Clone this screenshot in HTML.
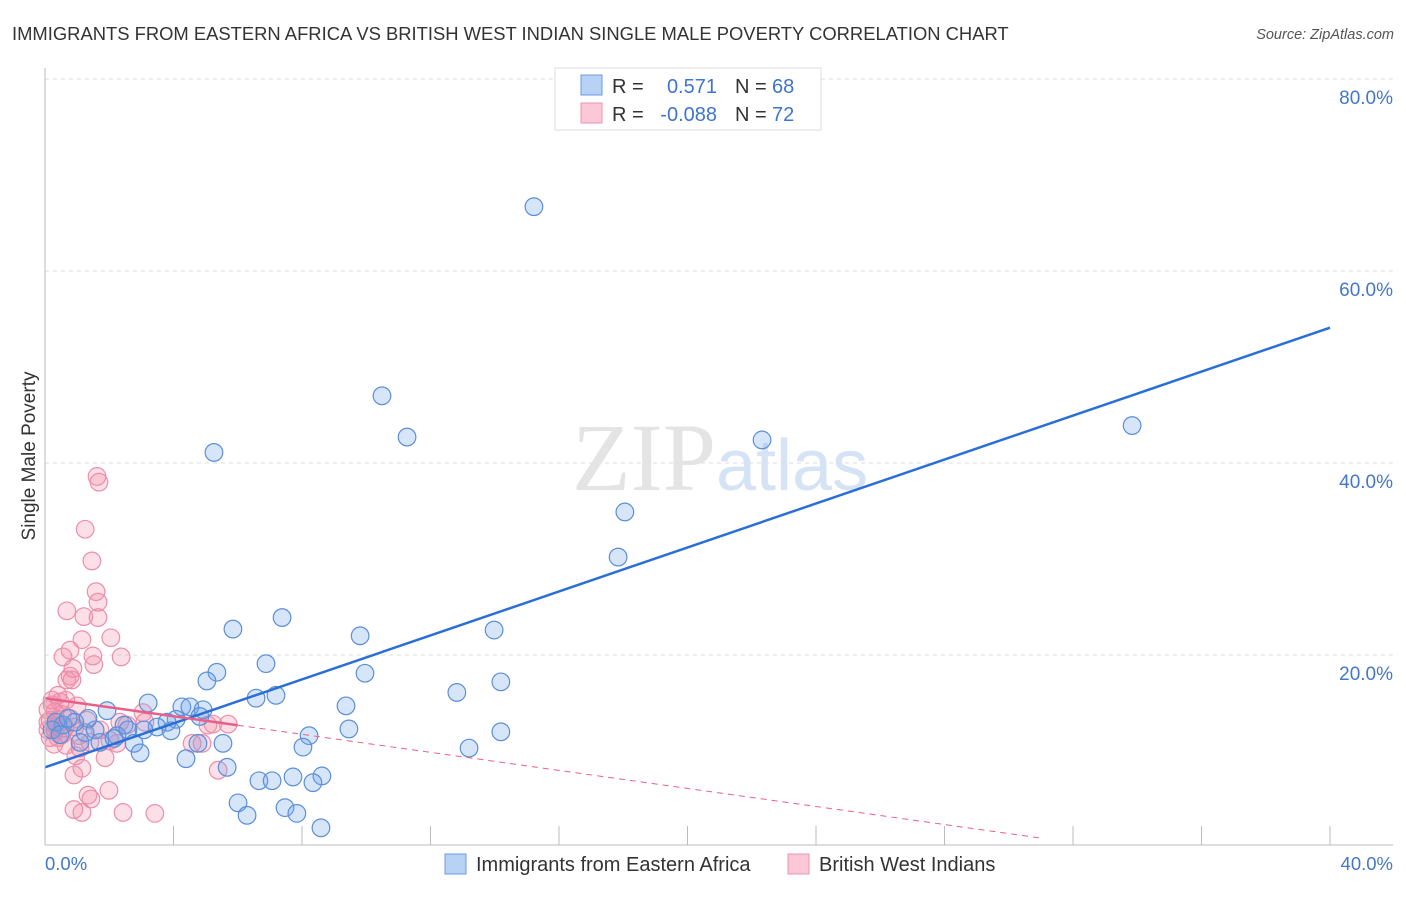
<!DOCTYPE html>
<html><head><meta charset="utf-8"><style>
body{margin:0;background:#fff;font-family:"Liberation Sans",sans-serif}
</style></head><body>
<svg width="1406" height="892" viewBox="0 0 1406 892" style="font-family:'Liberation Sans',sans-serif">
<text x="12" y="40" font-size="18.4" fill="#333">IMMIGRANTS FROM EASTERN AFRICA VS BRITISH WEST INDIAN SINGLE MALE POVERTY CORRELATION CHART</text>
<text x="1394" y="39" font-size="14.5" fill="#555" text-anchor="end" font-style="italic">Source: ZipAtlas.com</text>
<g id="grid"></g>
<text x="716" y="490" font-size="96" fill="#e4e4e4" text-anchor="end" font-family="Liberation Serif">ZIP</text>
<text x="716" y="490" font-size="72" fill="#d5e3f5">atlas</text>
<g id="pts"></g>
<g id="lines"></g>
<line x1="45" y1="68" x2="45" y2="845" stroke="#bbb"/>
<line x1="45" y1="845" x2="1393" y2="845" stroke="#bbb"/>
<g id="ticks"></g>
<text x="28" y="463" font-size="19" fill="#333" text-anchor="middle" transform="rotate(-90 28 456)">Single Male Poverty</text>
<text x="45" y="870" font-size="18.5" fill="#4477cc">0.0%</text>
<text x="1393" y="870" font-size="18.5" fill="#4477cc" text-anchor="end">40.0%</text>
<g>
<rect x="555" y="68" width="266" height="62" fill="#fff" stroke="#ddd"/>
<rect x="581" y="75" width="21" height="20" fill="#b8d2f5" stroke="#6a9be0"/>
<rect x="581" y="103" width="21" height="20" fill="#fcc7d6" stroke="#ee93ad"/>
<text x="612" y="93" font-size="20" fill="#333">R =</text>
<text x="717" y="93" font-size="20" fill="#3f74d0" text-anchor="end">0.571</text>
<text x="735" y="93" font-size="20" fill="#333">N =</text>
<text x="772" y="93" font-size="20" fill="#3f74d0">68</text>
<text x="612" y="121" font-size="20" fill="#333">R =</text>
<text x="717" y="121" font-size="20" fill="#3f74d0" text-anchor="end">-0.088</text>
<text x="735" y="121" font-size="20" fill="#333">N =</text>
<text x="772" y="121" font-size="20" fill="#3f74d0">72</text>
</g>
<g>
<rect x="445" y="854" width="21" height="20" fill="#b8d2f5" stroke="#6a9be0"/>
<text x="476" y="871" font-size="20" fill="#333">Immigrants from Eastern Africa</text>
<rect x="788" y="854" width="21" height="20" fill="#fcc7d6" stroke="#ee93ad"/>
<text x="819" y="871" font-size="20" fill="#333">British West Indians</text>
</g>
</svg>
<script>
const yTicks=[20,40,60,80];
const xTicks=[0,4,8,12,16,20,24,28,32,36,40];
const blueX=[15.22,10.49,11.27,5.26,22.32,33.84,18.05,17.84,7.38,5.85,13.98,9.81,6.88,5.35,9.96,5.04,12.82,14.19,6.57,7.19,3.21,9.37,4.26,4.51,4.92,1.93,4.08,3.80,2.46,3.49,2.58,3.08,3.92,1.56,1.25,0.56,0.93,2.24,9.46,14.19,8.22,4.76,5.54,1.71,2.77,2.15,1.09,8.03,13.20,2.96,4.39,5.67,7.72,8.62,6.66,7.07,8.34,6.01,7.47,6.29,7.84,8.59,0.34,0.22,0.47,0.72,1.34,4.82];
const blueY=[66.7,47.0,42.7,41.1,42.4,43.9,34.9,30.2,23.9,22.7,22.6,22.0,19.1,18.2,18.1,17.3,16.1,17.2,15.5,15.8,15.0,14.7,14.6,14.6,14.3,14.2,13.3,13.0,12.7,12.5,12.2,12.2,12.1,12.2,11.9,12.7,13.0,11.6,12.3,12.0,11.6,10.8,10.8,10.9,10.8,11.3,10.9,10.4,10.3,9.8,9.2,8.3,7.3,7.4,6.9,6.9,6.7,4.6,4.1,3.3,3.5,2.0,13.0,12.2,11.7,13.4,13.4,13.6];
const pinkX=[1.62,1.68,1.25,1.46,1.59,1.65,0.68,1.21,1.65,2.05,1.15,0.78,0.56,1.49,2.37,1.52,0.87,0.78,0.84,0.68,0.22,0.47,0.09,0.31,1.00,0.16,0.37,0.53,0.78,1.31,0.09,0.31,0.62,0.16,0.40,0.28,0.93,3.05,2.33,2.55,3.11,5.07,5.23,5.70,4.89,4.58,1.06,0.65,2.02,1.09,0.96,1.87,1.15,0.90,5.39,1.99,1.34,1.43,0.90,1.15,2.43,3.42,0.37,0.53,1.40,1.71,2.24,0.09,0.22,0.40,0.65];
const pinkY=[38.6,38.0,33.1,29.8,26.6,25.5,24.6,24.0,23.9,21.8,21.6,20.5,19.8,19.9,19.8,19.0,18.6,17.8,17.4,17.4,15.3,15.1,14.3,14.1,14.7,13.2,13.2,13.8,13.4,13.2,12.2,12.2,12.4,11.4,11.4,10.7,12.5,14.0,13.0,12.7,13.0,12.7,12.8,12.8,10.8,10.8,11.6,10.6,11.1,10.3,9.5,9.3,8.2,7.5,8.0,5.9,5.4,5.0,3.9,3.6,3.6,3.5,12.6,11.7,10.9,12.2,10.8,13.0,14.8,15.8,15.3];
const blueFit=[8.3,54.1];
const pinkFit=[15.5,-0.133];
const NS="http://www.w3.org/2000/svg";
const X=v=>45+v*32.125, Y=v=>847-v*9.6;
function mk(t,a,p){const e=document.createElementNS(NS,t);for(const k in a)e.setAttribute(k,a[k]);p.appendChild(e);return e;}
const grid=document.getElementById('grid'),ticks=document.getElementById('ticks'),pts=document.getElementById('pts'),lines=document.getElementById('lines');
yTicks.forEach(v=>{
 const l=mk('line',{x1:45,x2:1393,y1:Y(v),y2:Y(v),stroke:'#ddd','stroke-dasharray':'4,4'},grid);
 
 
 const t=mk('text',{x:1393,y:Y(v)+25,'font-size':19,fill:'#4477cc','text-anchor':'end'},ticks);
 t.textContent=v.toFixed(1)+'%';
 
 
});
xTicks.forEach(v=>{
 const l=mk('line',{x1:X(v),x2:X(v),y1:826,y2:845,stroke:'#bbb'},ticks);
 
 
});
pinkX.forEach((v,i)=>{
 const c=mk('circle',{cx:X(v),cy:Y(pinkY[i]),r:8.8,fill:'rgba(245,140,170,0.28)',stroke:'#ec8fab','stroke-width':1.2},pts);
 
 
});
blueX.forEach((v,i)=>{
 const c=mk('circle',{cx:X(v),cy:Y(blueY[i]),r:8.8,fill:'rgba(110,160,235,0.28)',stroke:'#5b8fd9','stroke-width':1.2},pts);
 
 
});
const bl=mk('line',{x1:X(0),y1:Y(blueFit[0]),x2:X(40),y2:Y(blueFit[1]),stroke:'#2a6fd6','stroke-width':2.5},lines);


const pe=6, pend=31;
const py=x=>pinkFit[0]+pinkFit[1]*x*3.2125*1.1;
const pl=mk('line',{x1:X(0),y1:Y(py(0)),x2:X(pe),y2:Y(py(pe)),stroke:'#e8608a','stroke-width':2.5},lines);


const pd=mk('line',{x1:X(pe),y1:Y(py(pe)),x2:X(pend),y2:Y(Math.max(0.2,py(pend))),stroke:'#e8608a','stroke-width':1,'stroke-dasharray':'6,5'},lines);


</script>
</body></html>
